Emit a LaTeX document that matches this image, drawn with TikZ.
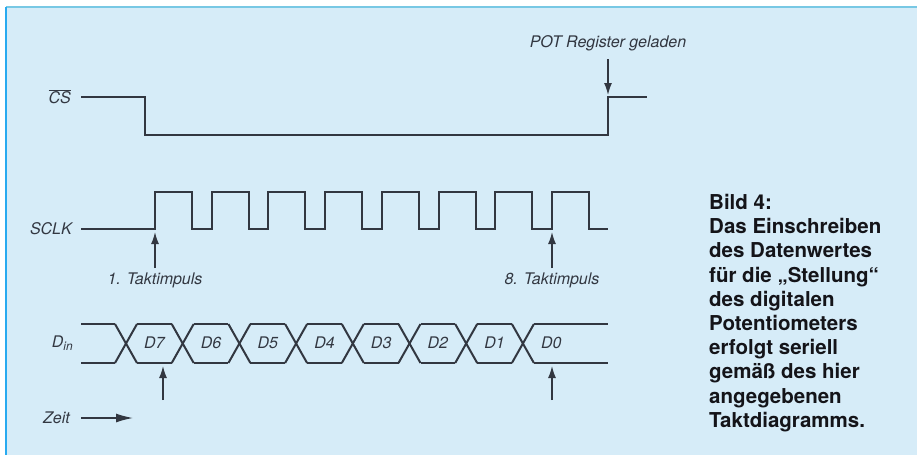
\documentclass[tikz,border=0pt]{standalone}
\usepackage{fontspec}
\setmainfont{TeX Gyre Heros}
\usetikzlibrary{arrows.meta}
\definecolor{bgblue}{RGB}{214,236,248}
\definecolor{lborder}{RGB}{40,170,240}
\definecolor{tborder}{RGB}{120,200,228}
\definecolor{wave}{RGB}{50,55,65}
\definecolor{captxt}{RGB}{20,20,25}
\tikzset{
  sig/.style={draw=wave,line width=2pt,line join=miter},
  arr/.style={draw=wave,line width=1.4pt,-{Latex[length=12pt,width=8pt]}},
  lbl/.style={inner sep=0pt,font=\fontsize{16}{19}\selectfont\itshape,text=wave},
  captext/.style={inner sep=0pt,align=left,font=\fontsize{20.5}{24.2}\selectfont\bfseries,text=captxt}
}
\begin{document}
\begin{tikzpicture}[x=1pt,y=-1pt]
\useasboundingbox (0,0) rectangle (917,455);
\fill[white] (0,0) rectangle (917,455);
\fill[bgblue] (6,7) rectangle (917,455);
\draw[tborder,line width=1.5pt] (6,7) -- (917,7);
\draw[lborder,line width=2pt] (6,7) -- (6,455);

% labels
\node[lbl,anchor=east] (cs) at (71,97) {$\overline{\mbox{\itshape CS}}$};
\node[lbl,anchor=east] (sclk) at (72,229) {SCLK};
\node[lbl,anchor=east] (din) at (73,343) {D{\fontsize{12}{14}\selectfont\raisebox{-3pt}{in}}};
\node[lbl,anchor=east] (zeit) at (70,418) {Zeit};

% CS waveform
\draw[sig] (81,97) -- (145,97) -- (145,135) -- (608,135) -- (608,97) -- (647,97);

% SCLK waveform
\draw[sig] (81,229)
  \foreach \i in {0,...,7} {
    -- ({155+56.7*\i},229) -- ({155+56.7*\i},192) -- ({192+56.7*\i},192) -- ({192+56.7*\i},229)
  } -- (608,229);

% Data bus
\draw[sig] (81,324) -- (115,324);
\draw[sig] (81,363) -- (115,363);
\foreach \i [count=\k from 0] in {7,6,5,4,3,2,1,0} {
  \pgfmathsetmacro{\c}{126+56.7*\k}
  \draw[sig] ({\c-11},324) -- ({\c+11},363);
  \draw[sig] ({\c-11},363) -- ({\c+11},324);
  \node[lbl] (d\i) at ({\c+28.4},343) {D\i};
}
\foreach \k in {0,...,6} {
  \draw[sig] ({126+56.7*\k+11},324) -- ({126+56.7*(\k+1)-11},324);
  \draw[sig] ({126+56.7*\k+11},363) -- ({126+56.7*(\k+1)-11},363);
}
\draw[sig] (534,324) -- (608,324);
\draw[sig] (534,363) -- (608,363);

% annotations
\node[lbl] (pot) at (608,43) {POT Register geladen};
\coordinate (potA) at (608,59);
\coordinate (potB) at (608,95);
\draw[arr] (potA) -- (potB);

\node[lbl] (t1) at (155,280) {1. Taktimpuls};
\coordinate (t1A) at (155,268);
\coordinate (t1B) at (155,232);
\draw[arr] (t1A) -- (t1B);

\node[lbl] (t8) at (552,280) {8. Taktimpuls};
\coordinate (t8A) at (552,268);
\coordinate (t8B) at (552,232);
\draw[arr] (t8A) -- (t8B);

\coordinate (d7A) at (163,400);
\coordinate (d7B) at (163,366);
\draw[arr] (d7A) -- (d7B);
\coordinate (d0A) at (552,400);
\coordinate (d0B) at (552,366);
\draw[arr] (d0A) -- (d0B);

\coordinate (zA) at (81,418);
\coordinate (zB) at (133,418);
\draw[draw=wave,line width=1.4pt,-{Latex[length=17pt,width=9pt]}] (zA) -- (zB);

% caption
\node[captext,anchor=north west] (caption) at (709,194) {Bild 4:\\Das Einschreiben\\des Datenwertes\\für die „Stellung“\\des digitalen\\Potentiometers\\erfolgt seriell\\gemäß des hier\\angegebenen\\Taktdiagramms.};
\end{tikzpicture}
\end{document}
